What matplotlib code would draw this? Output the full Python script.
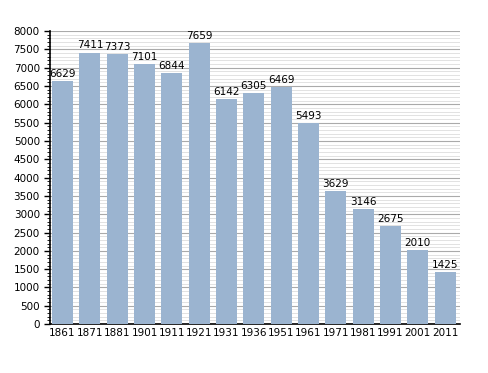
import matplotlib.pyplot as plt
from matplotlib.ticker import MultipleLocator

years = ['1861', '1871', '1881', '1901', '1911', '1921', '1931', '1936',
         '1951', '1961', '1971', '1981', '1991', '2001', '2011']
population = [6629, 7411, 7373, 7101, 6844, 7659, 6142, 6305,
              6469, 5493, 3629, 3146, 2675, 2010, 1425]

fig = plt.figure(figsize=(4.88, 3.73), dpi=100)
ax = fig.add_axes([0.103, 0.131, 0.84, 0.786])

x = range(len(years))
ax.bar(x, population, width=0.77, color='#9bb4d0', zorder=3)
for xi, v in zip(x, population):
    ax.text(xi, v + 60, str(v), ha='center', va='bottom', fontsize=7.5, zorder=4)

ax.set_xlim(-0.45, len(years) - 0.45)
ax.set_ylim(0, 8000)
ax.set_xticks(list(x))
ax.set_xticklabels(years, fontsize=7.5)
ax.yaxis.set_major_locator(MultipleLocator(500))
ax.yaxis.set_minor_locator(MultipleLocator(100))
ax.tick_params(axis='y', labelsize=7.5, length=4, width=1)
ax.tick_params(axis='y', which='minor', length=2.5, width=0.6)
ax.tick_params(axis='x', length=0, pad=3)

ax.grid(axis='y', which='major', color='#aaaaaa', linewidth=0.8, zorder=0)
ax.grid(axis='y', which='minor', color='#dddddd', linewidth=0.6, zorder=0)
ax.set_axisbelow(True)

for s in ['top', 'right']:
    ax.spines[s].set_visible(False)
ax.spines['left'].set_linewidth(1.2)
ax.spines['bottom'].set_linewidth(1.2)

fig.savefig('out.png', dpi=100)
